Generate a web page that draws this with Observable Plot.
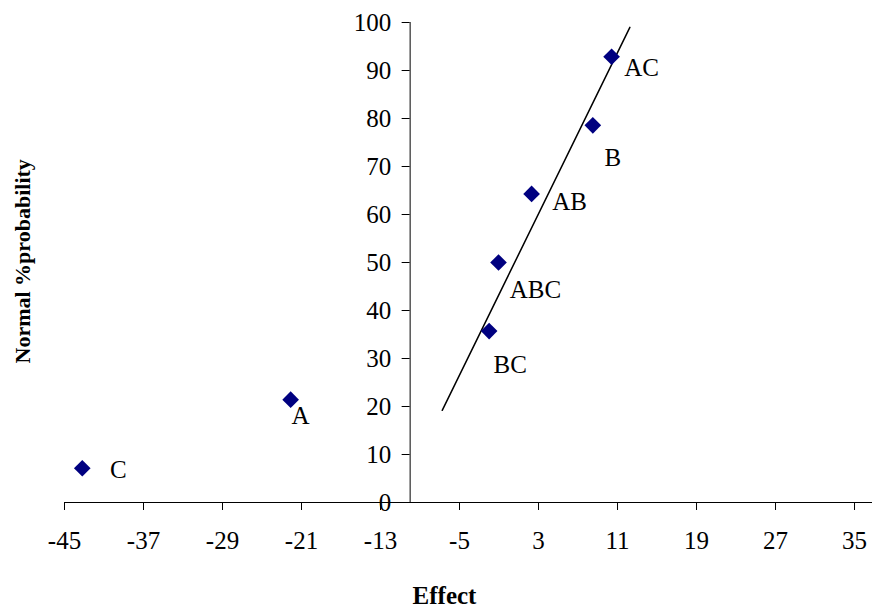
<!DOCTYPE html>
<html><head><meta charset="utf-8">
<script src="https://cdn.jsdelivr.net/npm/d3@7"></script>
<script src="https://cdn.jsdelivr.net/npm/@observablehq/plot@0.6"></script>
<style>html,body{margin:0;padding:0;background:#fff;} svg{display:block}</style>
</head><body><div id="chart"></div>
<script>
// Data
const effectNames = ["C", "A", "BC", "ABC", "AB", "B", "AC"];
const effectValues = [-43.2, -22.1, -2.0, -1.05, 2.3, 8.5, 10.4];
const normalProb = [7.14, 21.43, 35.71, 50, 64.29, 78.57, 92.86];
const fitLineX = [-6.75, 12.25];
const fitLineY = [19.2, 99.0];
const xTicks = [-45, -37, -29, -21, -13, -5, 3, 11, 19, 27, 35];
const yTicks = [0, 10, 20, 30, 40, 50, 60, 70, 80, 90, 100];
const yAxisCrossAt = -10;
const xTitle = "Effect";
const yTitle = "Normal %probability";

const font = "'Liberation Serif','Times New Roman',serif";
const points = effectNames.map((name, i) => ({name, x: effectValues[i], y: normalProb[i]}));
const fitLine = fitLineX.map((x, i) => ({x, y: fitLineY[i]}));
const labelOffset = {C: [36, 2], A: [10, 16], BC: [21, 34], ABC: [37, 27], AB: [38, 8], B: [20, 33], AC: [30, 11]};

const chart = Plot.plot({
  width: 872, height: 610,
  marginLeft: 64, marginRight: 0, marginTop: 22, marginBottom: 108,
  x: {domain: [-45, 36.82], axis: null},
  y: {domain: [0, 100], axis: null},
  style: {fontFamily: font, fontSize: "24px", color: "#000", background: "#fff", overflow: "visible"},
  marks: [
    // x axis line, ticks, labels
    Plot.ruleY([0], {stroke: "#000", strokeWidth: 1}),
    Plot.ruleX(xTicks, {x: d => d, y1: 0, y2: 0, insetBottom: -8, stroke: "#000", strokeWidth: 1}),
    Plot.text(xTicks, {x: d => d, y: () => 0, text: d => String(d), dy: 38, fontSize: 25, fill: "#000"}),
    // y axis line, ticks, labels
    Plot.ruleX([yAxisCrossAt], {x: d => d, y1: 0, y2: 100, stroke: "#000", strokeWidth: 1}),
    Plot.ruleY(yTicks, {y: d => d, x1: yAxisCrossAt, x2: yAxisCrossAt, insetLeft: -8, stroke: "#000", strokeWidth: 1}),
    Plot.text(yTicks, {x: () => yAxisCrossAt, y: d => d, text: d => String(d), dx: -19, textAnchor: "end", fontSize: 25, fill: "#000"}),
    // fitted line
    Plot.line(fitLine, {x: "x", y: "y", stroke: "#000", strokeWidth: 1.5}),
    // points
    Plot.dot(points, {x: "x", y: "y", symbol: "diamond2", r: 7.5, fill: "#000080", stroke: "none"}),
    // point labels
    ...effectNames.map(n => Plot.text(points.filter(p => p.name === n), {
      x: "x", y: "y", text: "name", dx: labelOffset[n][0], dy: labelOffset[n][1], fontSize: 25, fill: "#000"
    })),
    // titles
    Plot.text([xTitle], {text: d => d, frameAnchor: "bottom", dx: -24, dy: 101, fontWeight: "bold", fontSize: 25, fill: "#000"}),
    Plot.text([yTitle], {text: d => d, frameAnchor: "left", rotate: -90, dx: -42, dy: 101, fontWeight: "bold", fontSize: 22, fill: "#000"})
  ]
});
document.getElementById("chart").appendChild(chart);
</script>
</body></html>
